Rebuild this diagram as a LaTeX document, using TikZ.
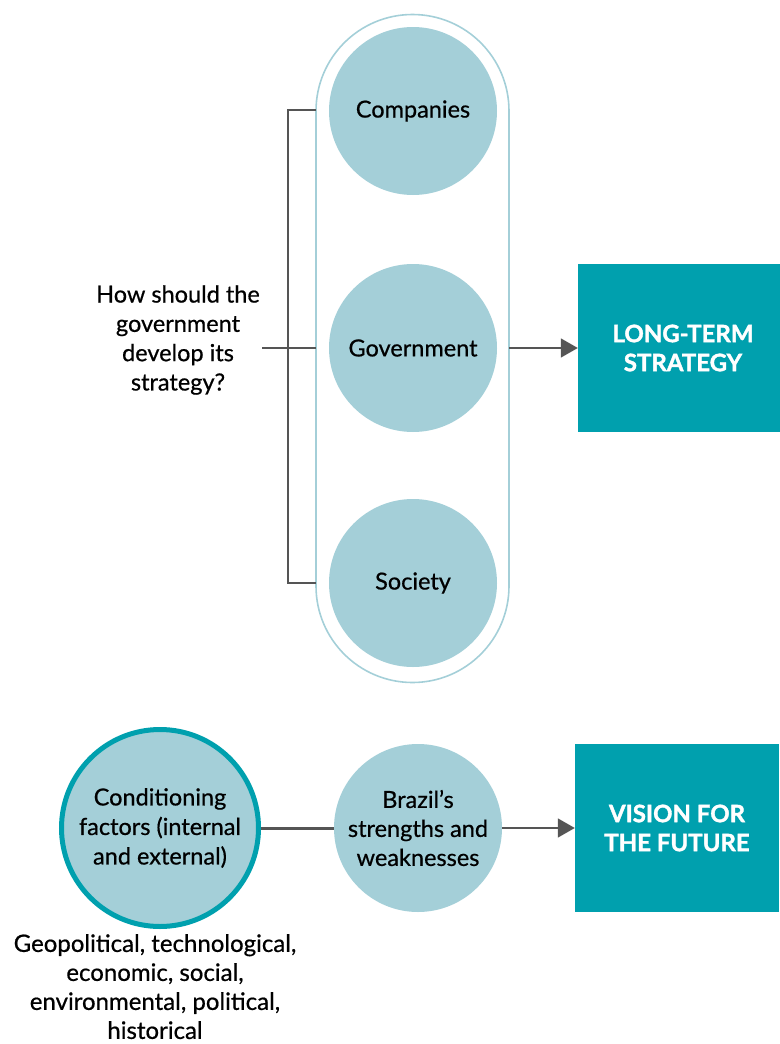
\documentclass[tikz,border=0pt]{standalone}
\usepackage{fontspec}
\setmainfont{Lato}[FakeBold=0.6]
\newfontfamily\boxfont{Lato}[FakeBold=1.5]
\usetikzlibrary{arrows.meta}
\definecolor{lightc}{HTML}{A4CFD8}
\definecolor{teal}{HTML}{00A0AE}
\definecolor{conn}{HTML}{555555}
\begin{document}
\begin{tikzpicture}[x=1pt,y=-1pt,
  circ/.style={circle,fill=lightc,minimum size=168pt,inner sep=0pt,align=center,font=\fontsize{23.5}{29}\selectfont},
  bigcirc/.style={circle,fill=lightc,draw=teal,line width=5pt,minimum size=197pt,inner sep=0pt,align=center,font=\fontsize{23.5}{29.5}\selectfont},
  tealbox/.style={rectangle,fill=teal,inner sep=0pt,align=center,text=white,font=\fontsize{24}{29}\boxfont\bfseries\selectfont},
  plain/.style={align=center,inner sep=0pt,font=\fontsize{23.5}{29.3}\selectfont},
  line/.style={draw=conn,line width=1.6pt},
  arr/.style={draw=conn,line width=1.6pt,-{Triangle[length=17pt,width=19pt]}}
]
\useasboundingbox (0,0) rectangle (779,1044);
% pill
\draw[lightc,line width=1.6pt] (316,111) arc[start angle=180,end angle=360,radius=96.5] -- (509,586) arc[start angle=0,end angle=180,radius=96.5] -- cycle;
\node[circ] (comp) at (413,111) {Companies};
\node[circ] (gov) at (413,348) {Government};
\node[circ] (soc) at (413,583) {Society};
\node[plain] (q) at (178,340) {How should the\\government\\develop its\\strategy?};
\coordinate (pl) at (316,348);
\coordinate (pt) at (316,110);
\coordinate (pb) at (316,583);
\coordinate (pr) at (509,348);
\draw[line] (pt) -- (288,110) -- (288,583) -- (pb);
\draw[line] (262,348) -- (pl);
\node[tealbox,minimum width=210pt,minimum height=168pt] (lts) at (683,348) {LONG-TERM\\STRATEGY};
\draw[arr] (pr) -- (lts.west);
% bottom
\node[bigcirc] (cf) at (160,828) {Conditioning\\factors (internal\\and external)};
\node[circ] (bz) at (418,828) {Brazil’s\\strengths and\\weaknesses};
\node[tealbox,minimum width=204pt,minimum height=168pt] (vf) at (677,828) {VISION FOR\\THE FUTURE};
\draw[draw=conn,line width=3pt] (cf.east) -- (bz.west);
\draw[arr] (bz.east) -- (vf.west);
\node[plain,anchor=north,font=\fontsize{24}{29}\selectfont] (gl) at (155,934) {Geopolitical, technological,\\economic, social,\\environmental, political,\\historical};
\end{tikzpicture}
\end{document}
